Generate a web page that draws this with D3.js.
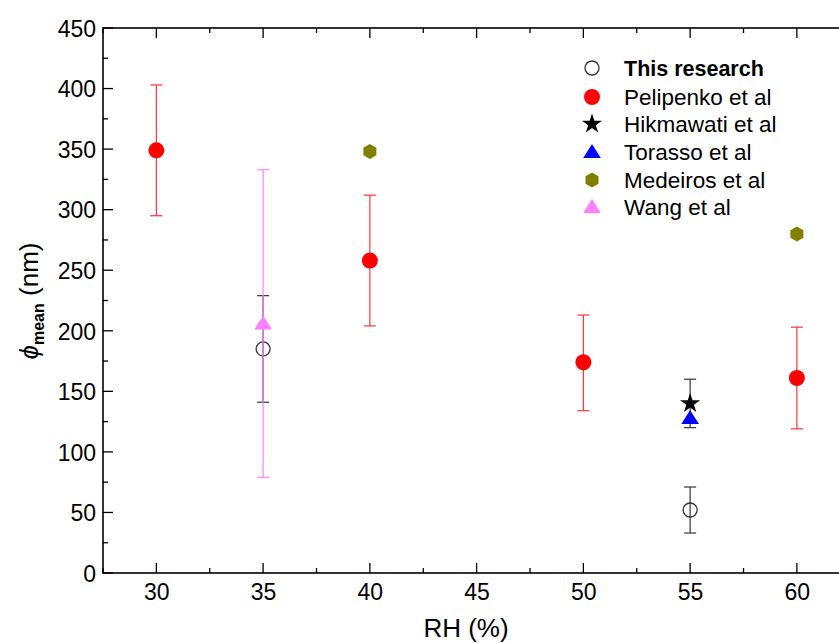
<!DOCTYPE html>
<html><head><meta charset="utf-8">
<script src="https://cdn.jsdelivr.net/npm/d3@7"></script>
<style>body{margin:0;background:#fff}svg{display:block}text{font-family:"Liberation Sans",Arial,sans-serif}</style>
</head><body><svg id="c" width="839" height="643"></svg>
<script>
const xTicks = [30,35,40,45,50,55,60];
const yTicks = [0,50,100,150,200,250,300,350,400,450];
const seriesNames = ["This research","Pelipenko et al","Hikmawati et al","Torasso et al","Medeiros et al","Wang et al"];
// [RH, mean, low, high]
const thisResearch = [[35,185,141,229],[55,52,33,71]];
const pelipenko = [[30,349,295,403],[40,258,204,312],[50,174,134,213],[60,161,119,203]];
const hikmawati = [[55,140,120,160]];
const torasso = [[55,128,null,null]];
const medeiros = [[40,348,null,null],[60,280,null,null]];
const wang = [[35,206,79,333]];

const svg = d3.select("#c");
const L=103, T=28, B=573;
const x = d3.scaleLinear().domain([27.5,62.5]).range([L, L+(62.5-27.5)*21.35]);
const y = d3.scaleLinear().domain([0,450]).range([B,T]);

svg.append("rect").attr("x",L).attr("y",T).attr("width",x(62.5)-L).attr("height",B-T)
  .attr("fill","none").attr("stroke","#000").attr("stroke-width",1.6);

const minorX = d3.range(27.5,62.6,2.5).filter(v=>!xTicks.includes(v));
const minorY = d3.range(25,450,50);
function ticks(){
  const g = svg.append("g").attr("stroke","#000").attr("stroke-width",1.3);
  xTicks.forEach(v=>{g.append("line").attr("x1",x(v)).attr("x2",x(v)).attr("y1",B).attr("y2",B-10);
                     g.append("line").attr("x1",x(v)).attr("x2",x(v)).attr("y1",T).attr("y2",T+10);});
  minorX.forEach(v=>{g.append("line").attr("x1",x(v)).attr("x2",x(v)).attr("y1",B).attr("y2",B-5);
                     g.append("line").attr("x1",x(v)).attr("x2",x(v)).attr("y1",T).attr("y2",T+5);});
  yTicks.forEach(v=>{g.append("line").attr("x1",L).attr("x2",L+10).attr("y1",y(v)).attr("y2",y(v));
                     g.append("line").attr("x1",x(62.5)).attr("x2",x(62.5)-10).attr("y1",y(v)).attr("y2",y(v));});
  minorY.forEach(v=>{g.append("line").attr("x1",L).attr("x2",L+5).attr("y1",y(v)).attr("y2",y(v));
                     g.append("line").attr("x1",x(62.5)).attr("x2",x(62.5)-5).attr("y1",y(v)).attr("y2",y(v));});
}
ticks();

const xa = svg.append("g").attr("transform",`translate(0,${B})`)
  .call(d3.axisBottom(x).tickValues(xTicks).tickSize(0).tickPadding(11));
xa.select(".domain").remove();
xa.selectAll("text").attr("font-size",23).attr("fill","#000").attr("font-family","Liberation Sans, Arial");
const ya = svg.append("g").attr("transform",`translate(${L},0)`)
  .call(d3.axisLeft(y).tickValues(yTicks).tickSize(0).tickPadding(7));
ya.select(".domain").remove();
ya.selectAll("text").attr("font-size",23).attr("fill","#000").attr("font-family","Liberation Sans, Arial").attr("dy","0.36em");

svg.append("text").attr("x",466).attr("y",637).attr("text-anchor","middle").attr("font-size",26).text("RH (%)");
const yl = svg.append("text").attr("transform","translate(38,301) rotate(-90)").attr("text-anchor","middle").attr("font-size",26);
yl.append("tspan").attr("font-style","italic").text("\u03D5");
yl.append("tspan").attr("font-weight","bold").attr("font-size",16).attr("dy",6).text("mean");
yl.append("tspan").attr("dy",-6).text(" (nm)");

function errbars(data,color){
  const g = svg.append("g").attr("stroke",color).attr("stroke-width",1.2);
  data.filter(d=>d[2]!=null).forEach(d=>{
    const cx=x(d[0]);
    g.append("line").attr("x1",cx).attr("x2",cx).attr("y1",y(d[2])).attr("y2",y(d[3]));
    [d[2],d[3]].forEach(v=>g.append("line").attr("x1",cx-6).attr("x2",cx+6).attr("y1",y(v)).attr("y2",y(v)));
  });
}
function hexPath(r){ let p=[]; for(let i=0;i<6;i++){const a=Math.PI/3*i-Math.PI/2; p.push([r*Math.cos(a),r*Math.sin(a)]);} return "M"+p.join("L")+"Z"; }
function triPath(s){ return `M0,${-s}L${s*1.1},${s*0.75}L${-s*1.1},${s*0.75}Z`; }
const sym = {
  circleOpen: g=>g.append("circle").attr("r",7).attr("fill","#fff").attr("fill-opacity",0).attr("stroke","#333").attr("stroke-width",1.3),
  circleRed: g=>g.append("circle").attr("r",8).attr("fill","#FF0000"),
  star: g=>g.append("path").attr("d",d3.symbol(d3.symbolStar,125)()).attr("fill","#000"),
  triBlue: g=>g.append("path").attr("d",triPath(8)).attr("fill","#0000FF"),
  hex: g=>g.append("path").attr("d",hexPath(7.5)).attr("fill","#808000"),
  triPink: g=>g.append("path").attr("d",triPath(8)).attr("fill","#FF80FF")
};
function points(data,s){
  data.forEach(d=>{ const g=svg.append("g").attr("transform",`translate(${x(d[0])},${y(d[1])})`); sym[s](g); });
}
errbars(pelipenko,"#FF3333");
points(pelipenko,"circleRed");
errbars(hikmawati,"#333");
points(torasso,"triBlue");
points(hikmawati,"star");
points(medeiros,"hex");
errbars(thisResearch,"#333");
points(thisResearch,"circleOpen");
errbars(wang,"#FF80FF");
points(wang,"triPink");

const symKeys=["circleOpen","circleRed","star","triBlue","hex","triPink"];
const ly=[68,97,124,152,180,207];
seriesNames.forEach((n,i)=>{
  const g=svg.append("g").attr("transform",`translate(592,${ly[i]})`); sym[symKeys[i]](g);
  svg.append("text").attr("x",624).attr("y",ly[i]).attr("dy","0.36em").attr("font-size",i===0?21.5:22.5)
    .attr("font-weight",i===0?"bold":"normal").text(n);
});
</script></body></html>
